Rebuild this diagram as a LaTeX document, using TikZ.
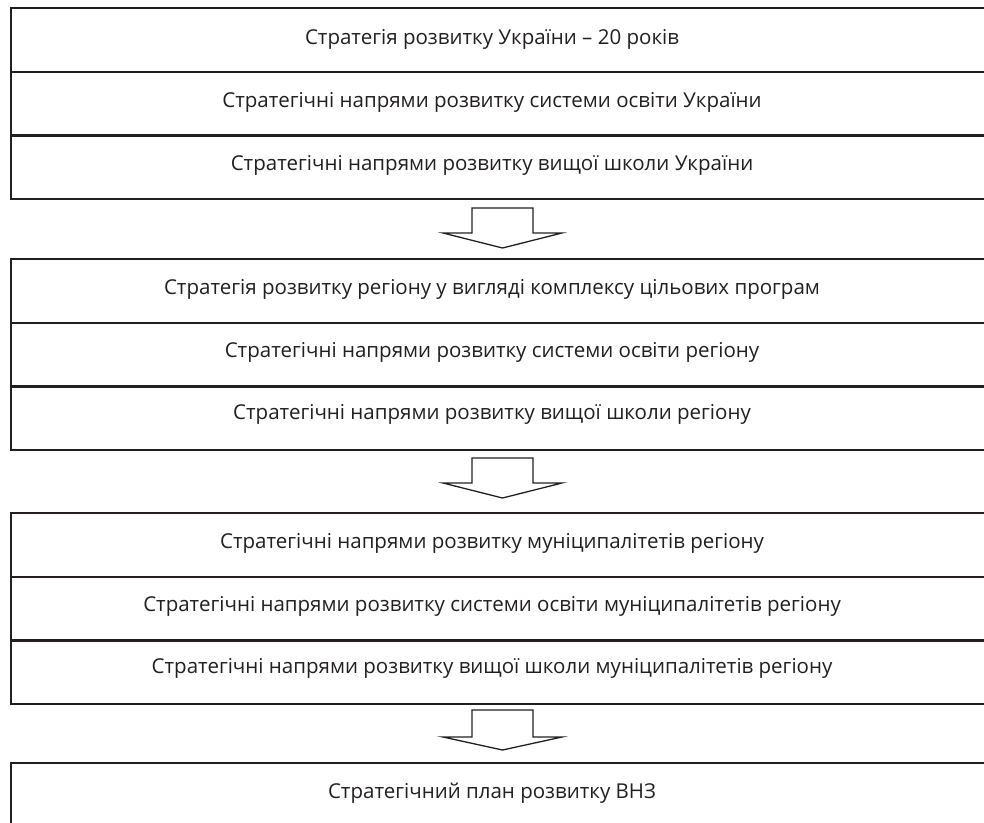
\documentclass[tikz,border=0pt]{standalone}
\usepackage{fontspec}
\setmainfont{Open Sans}
\definecolor{ink}{HTML}{231F20}
\begin{document}
\begin{tikzpicture}[x=1pt,y=-1pt,
  row/.style={draw=ink, line width=2.2pt, anchor=north west, minimum width=1000pt,
    minimum height=63.7pt, inner sep=0pt},
  lbl/.style={text=ink, font=\fontsize{20.5}{24}\selectfont},
  downarrow/.style={draw=ink, line width=1.3pt, line join=miter, fill=white}]
\useasboundingbox (0,0) rectangle (984,822);
\clip (0,0) rectangle (984,822);
% group 1
\node[row] (a1) at (10,7) {};
\node[row] (a2) at (10,70.7) {};
\node[row] (a3) at (10,134.4) {};
% group 2
\node[row] (b1) at (10,258) {};
\node[row] (b2) at (10,321.7) {};
\node[row] (b3) at (10,385.4) {};
% group 3
\node[row] (c1) at (10,512) {};
\node[row] (c2) at (10,575.7) {};
\node[row] (c3) at (10,639.4) {};
% group 4
\node[row] (d1) at (10,762) {};
% texts
\node[lbl] (ta1) at (492, 39) {Стратегія розвитку України – 20 років};
\node[lbl] (ta2) at (492, 102) {Стратегічні напрями розвитку системи освіти України};
\node[lbl] (ta3) at (492, 165) {Стратегічні напрями розвитку вищої школи України};
\node[lbl] (tb1) at (492, 289) {Стратегія розвитку регіону у вигляді комплексу цільових програм};
\node[lbl] (tb2) at (492, 352) {Стратегічні напрями розвитку системи освіти регіону};
\node[lbl] (tb3) at (492, 414) {Стратегічні напрями розвитку вищої школи регіону};
\node[lbl] (tc1) at (492, 543) {Стратегічні напрями розвитку муніципалітетів регіону};
\node[lbl] (tc2) at (492, 606) {Стратегічні напрями розвитку системи освіти муніципалітетів регіону};
\node[lbl] (tc3) at (492, 668) {Стратегічні напрями розвитку вищої школи муніципалітетів регіону};
\node[lbl] (td1) at (492, 793) {Стратегічний план розвитку ВНЗ};
% arrows
\draw[downarrow] (472,208) -- (533,208) -- (533,233) -- (562,233) -- (502.5,248) -- (443,233) -- (472,233) -- cycle;
\draw[downarrow] (472,458) -- (533,458) -- (533,483) -- (562,483) -- (502.5,498) -- (443,483) -- (472,483) -- cycle;
\draw[downarrow] (472,710) -- (533,710) -- (533,737) -- (562,737) -- (502.5,750) -- (443,737) -- (472,737) -- cycle;
\end{tikzpicture}
\end{document}
